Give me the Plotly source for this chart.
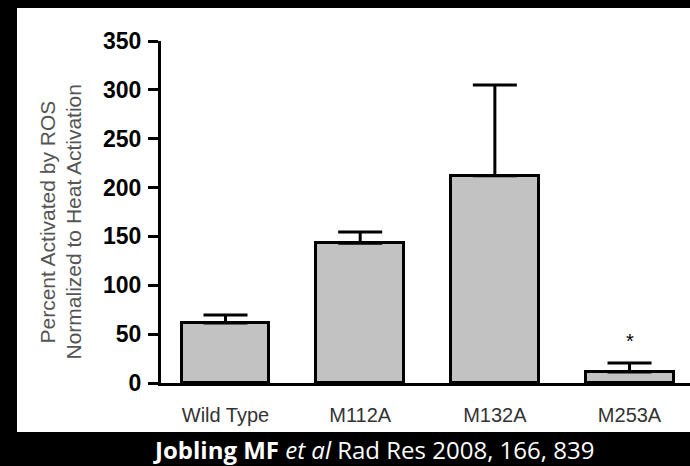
import plotly.graph_objects as go

categories = ["Wild Type", "M112A", "M132A", "M253A"]
values = [61.5, 143, 212, 11.3]
errors_up = [8.2, 11.5, 93, 9.2]
errors_down = [0, 0, 0, 0]
y_ticks = [0, 50, 100, 150, 200, 250, 300, 350]
y_title_lines = ["Percent Activated by ROS", "Normalized to Heat Activation"]
star_category = "M253A"
star_y = 43
caption = "<b>Jobling MF</b> <i>et al</i> Rad Res 2008, 166, 839"

W, H = 690, 466
L, R, T, B = 161, 0, 41, 83
pw = W - L - R
ph = H - T - B

def px_to_paper_x(px):
    return (px - L) / pw

def px_to_paper_y(py):
    return (H - B - py) / ph

FONT = "Liberation Sans, Arial, sans-serif"

fig = go.Figure()
fig.add_trace(go.Bar(
    x=categories, y=values, width=0.653,
    marker=dict(color="#c2c2c2", line=dict(color="black", width=3)),
    error_y=dict(type="data", symmetric=False, array=errors_up, arrayminus=errors_down,
                 color="black", thickness=3, width=22),
    showlegend=False,
))

fig.update_layout(
    width=W, height=H,
    margin=dict(l=L, r=R, t=T, b=B, pad=0),
    paper_bgcolor="black",
    plot_bgcolor="white",
    bargap=0,
    xaxis=dict(
        type="category", range=[-0.479, 3.449],
        showline=True, linecolor="black", linewidth=3,
        ticks="", showgrid=False, zeroline=False,
        tickfont=dict(family=FONT, size=20, color="#333333"),
        ticklabelstandoff=12,
    ),
    yaxis=dict(
        range=[0, 350], tickvals=y_ticks,
        showline=True, linecolor="black", linewidth=3,
        ticks="outside", ticklen=10, tickwidth=3, tickcolor="black",
        showgrid=False, zeroline=False,
        tickfont=dict(family=FONT, size=23, color="black", weight="bold"),
        ticklabelstandoff=2,
    ),
    shapes=[dict(
        type="rect", xref="paper", yref="paper", layer="below",
        x0=px_to_paper_x(17), x1=px_to_paper_x(690),
        y0=px_to_paper_y(432), y1=px_to_paper_y(8),
        fillcolor="white", line=dict(width=0),
    )],
)

# y-axis title as two rotated lines
for xpx, txt in zip([47.5, 73.5], y_title_lines):
    fig.add_annotation(
        text=txt, textangle=-90, xref="paper", yref="paper",
        x=px_to_paper_x(xpx), y=px_to_paper_y(222),
        xanchor="center", yanchor="middle", showarrow=False,
        font=dict(family=FONT, size=21, color="#555555"),
    )

fig.add_annotation(
    text="*", x=star_category, y=star_y, xref="x", yref="y",
    showarrow=False, font=dict(family=FONT, size=20, color="black"),
)

fig.add_annotation(
    text=caption, xref="paper", yref="paper",
    x=px_to_paper_x(373), y=px_to_paper_y(449.5),
    xanchor="center", yanchor="middle", showarrow=False, borderpad=0,
    font=dict(family="Open Sans, sans-serif", size=24, color="white"),
)

fig.write_html(
    "out.html",
    config={"displayModeBar": False},
    post_script="document.body.style.margin='0';document.body.style.background='black';",
)
